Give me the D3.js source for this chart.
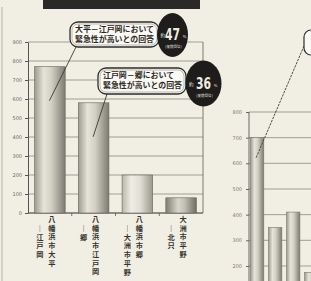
<!DOCTYPE html>
<html>
<head>
<meta charset="utf-8">
<script src="https://cdn.jsdelivr.net/npm/d3@7"></script>
<style>
  html, body { margin: 0; padding: 0; background: #f1efe4; }
  svg { display: block; }
</style>
</head>
<body>
<svg id="chart"></svg>
<script>
// data
const categories = ['八幡浜市大平－江戸岡', '八幡浜市江戸岡－郷', '八幡浜市郷－大洲市平野', '大洲市平野－北只']
const counts = [770, 580, 200, 80]
const yTicks = [0, 100, 200, 300, 400, 500, 600, 700, 800, 900]

const calloutLines = [
  ['大平－江戸岡において', '緊急性が高いとの回答'],
  ['江戸岡－郷において', '緊急性が高いとの回答']
]
const calloutPct = ['47', '36']

// second chart, only partly visible on the right edge
const rightKeys = ['r1', 'r2', 'r3', 'r4']
const rightCounts = [700, 350, 410, 175]
const rightTicks = [200, 300, 400, 500, 600, 700, 800]

const W = 311, H = 281
const jp = '"Noto Sans CJK JP", "Noto Sans", sans-serif'

const svg = d3.select('#chart').attr('width', W).attr('height', H)

svg.append('rect').attr('width', W).attr('height', H).attr('fill', '#f1efe4')

// GRADIENTS FOR THE CYLINDER BARS
const defs = svg.append('defs')
function grad(id, stops) {
  const g = defs.append('linearGradient').attr('id', id)
    .attr('x1', 0).attr('x2', 1).attr('y1', 0).attr('y2', 0)
  stops.forEach(s => g.append('stop').attr('offset', s[0]).attr('stop-color', s[1]))
}
grad('barGrad', [[0, '#9d9a8e'], [0.3, '#e6e4d9'], [0.55, '#d2cfc3'], [1, '#7d7a70']])
grad('barLight', [[0, '#b9b6aa'], [0.3, '#efede4'], [0.6, '#e0ded3'], [1, '#9a978c']])
grad('barDark', [[0, '#7f7c72'], [0.4, '#d8d6cb'], [0.6, '#c4c1b5'], [1, '#6f6c63']])

// page edge + title banner
svg.append('line').attr('x1', 2).attr('x2', 2).attr('y1', 7).attr('y2', H)
  .attr('stroke', '#b5b3a8').attr('stroke-width', 1)
svg.append('rect').attr('x', 43).attr('y', -2).attr('width', 157).attr('height', 11)
  .attr('fill', '#2b2927')

// LEFT CHART
const margin = { left: 28, top: 42, right: 108, bottom: 68 }
const x = d3.scaleBand().domain(categories).range([margin.left, W - margin.right])
  .paddingInner(0.3).paddingOuter(0.15)
const y = d3.scaleLinear().domain([0, 900]).range([H - margin.bottom, margin.top])

const plot = svg.append('g')

// grid
plot.append('g').selectAll('line').data(yTicks).enter().append('line')
  .attr('x1', margin.left).attr('x2', W - margin.right)
  .attr('y1', d => y(d)).attr('y2', d => y(d))
  .attr('stroke', '#8c8a80').attr('stroke-width', 0.8)
plot.append('line')
  .attr('x1', W - margin.right).attr('x2', W - margin.right)
  .attr('y1', y(900)).attr('y2', y(0))
  .attr('stroke', '#6f6d65').attr('stroke-width', 0.9)

const yAxis = d3.axisLeft(y).tickValues(yTicks).tickSize(3).tickPadding(3).tickSizeOuter(0)
const yg = plot.append('g').attr('transform', `translate(${margin.left},0)`).call(yAxis)
yg.select('.domain').attr('stroke', '#555')
yg.selectAll('.tick line').attr('stroke', '#555')
yg.selectAll('text').attr('font-size', 5).attr('fill', '#6a6860')
  .attr('font-family', 'DejaVu Sans, sans-serif')

// baseline and separators between bars
plot.append('line').attr('x1', margin.left).attr('x2', W - margin.right)
  .attr('y1', y(0)).attr('y2', y(0)).attr('stroke', '#555').attr('stroke-width', 1)
plot.append('g').selectAll('line').data(categories.slice(1)).enter().append('line')
  .attr('x1', d => x(d) - x.step() * x.paddingInner() / 2)
  .attr('x2', d => x(d) - x.step() * x.paddingInner() / 2)
  .attr('y1', y(0)).attr('y2', y(0) + 3)
  .attr('stroke', '#555').attr('stroke-width', 0.8)

const barFill = ['url(#barGrad)', 'url(#barGrad)', 'url(#barLight)', 'url(#barDark)']
plot.append('g').selectAll('rect').data(categories).enter().append('rect')
  .attr('x', d => x(d))
  .attr('y', (d, i) => y(counts[i]))
  .attr('width', x.bandwidth())
  .attr('height', (d, i) => y(0) - y(counts[i]))
  .attr('fill', (d, i) => barFill[i])
  .attr('stroke', '#66645c').attr('stroke-width', 0.6)

// vertical category labels: right column first, then the left one
const pitch = 8.7
categories.forEach(c => {
  const [first, second] = c.split('－')
  const cx = x(c) + x.bandwidth() / 2
  const cols = [
    { chars: first.split(''), x: cx + 2, y0: 222 },
    { chars: ['｜'].concat(second.split('')), x: cx - 10, y0: 231 }
  ]
  cols.forEach(col => {
    plot.append('g').selectAll('text').data(col.chars).enter().append('text')
      .attr('x', col.x)
      .attr('y', (d, i) => col.y0 + i * pitch)
      .attr('text-anchor', 'middle')
      .attr('font-family', jp).attr('font-weight', 700)
      .attr('font-size', 7.2).attr('fill', '#35332f')
      .text(d => d)
  })
})

// CALLOUTS
const boxes = [
  { x: 70, y: 22, w: 89, h: 25, cx: 172.5, cy: 35, rx: 15.5, ry: 22, lx: 76, ly: 47 },
  { x: 98, y: 68, w: 88, h: 26, cx: 203.5, cy: 83.5, rx: 18, ry: 23, lx: 107, ly: 94 }
]
boxes.forEach((b, i) => {
  const g = svg.append('g')
  const bx = x(categories[i]) + x.bandwidth() / 2 - 0.5
  g.append('line').attr('x1', b.lx).attr('y1', b.ly)
    .attr('x2', bx).attr('y2', y(counts[i]) + 34)
    .attr('stroke', '#3a3834').attr('stroke-width', 0.9)
  g.append('rect').attr('x', b.x).attr('y', b.y).attr('width', b.w).attr('height', b.h)
    .attr('rx', 8).attr('fill', '#faf9f3').attr('stroke', '#2f2d2a').attr('stroke-width', 1.3)
  g.append('rect').attr('x', b.x + 2).attr('y', b.y + 2).attr('width', b.w - 4).attr('height', b.h - 4)
    .attr('rx', 6).attr('fill', 'none').attr('stroke', '#77756d').attr('stroke-width', 0.5)
  g.selectAll('text.l').data(calloutLines[i]).enter().append('text')
    .attr('x', b.x + 5).attr('y', (d, j) => b.y + 10 + j * 10)
    .attr('font-family', jp).attr('font-weight', 700).attr('font-size', 7.6)
    .attr('fill', '#2a2825').attr('textLength', d => d.length * 7.9)
    .attr('lengthAdjust', 'spacingAndGlyphs')
    .text(d => d)

  g.append('ellipse').attr('cx', b.cx).attr('cy', b.cy).attr('rx', b.rx).attr('ry', b.ry)
    .attr('fill', '#1e1d1b')
  g.append('text').attr('x', b.cx - b.rx + 3.5).attr('y', b.cy + 2)
    .attr('font-family', jp).attr('font-size', 4.5).attr('fill', '#e6e4da').text('約')
  g.append('text').attr('x', b.cx).attr('y', b.cy + 5)
    .attr('text-anchor', 'middle')
    .attr('font-family', 'DejaVu Sans Condensed, DejaVu Sans, sans-serif')
    .attr('font-weight', 700).attr('font-size', 15).attr('fill', '#eeece2')
    .attr('textLength', 15).attr('lengthAdjust', 'spacingAndGlyphs')
    .text(calloutPct[i])
  g.append('text').attr('x', b.cx + 10.3).attr('y', b.cy + 3)
    .attr('font-family', 'DejaVu Sans, sans-serif').attr('font-size', 4)
    .attr('fill', '#e6e4da').text('%')
  g.append('text').attr('x', b.cx + 1).attr('y', b.cy + 13)
    .attr('text-anchor', 'middle')
    .attr('font-family', jp).attr('font-size', 3.6).attr('fill', '#d8d6cc')
    .text('(複数回答)')
})

// RIGHT CHART (cut off by the frame)
const x2 = d3.scaleBand().domain(rightKeys).range([249, 249 + 17.6 * 4])
  .paddingInner(0.26).paddingOuter(0.08)
const y2 = d3.scaleLinear().domain([0, 800]).range([317.3, 112])
const right = svg.append('g')

right.append('g').selectAll('line').data(rightTicks).enter().append('line')
  .attr('x1', 249).attr('x2', W)
  .attr('y1', d => y2(d)).attr('y2', d => y2(d))
  .attr('stroke', '#8c8a80').attr('stroke-width', 0.8)

const y2Axis = d3.axisLeft(y2).tickValues(rightTicks).tickSize(3).tickPadding(4).tickSizeOuter(0)
const y2g = right.append('g').attr('transform', 'translate(249,0)').call(y2Axis)
y2g.select('.domain').attr('stroke', '#666').attr('d', `M0,${y2(800)}V${H}`)
y2g.selectAll('.tick line').attr('stroke', '#666')
y2g.selectAll('text').attr('font-size', 5).attr('fill', '#7a786f')
  .attr('font-family', 'DejaVu Sans, sans-serif')

right.append('g').selectAll('rect').data(rightKeys).enter().append('rect')
  .attr('x', d => x2(d))
  .attr('y', (d, i) => y2(rightCounts[i]))
  .attr('width', x2.bandwidth())
  .attr('height', (d, i) => y2(0) - y2(rightCounts[i]))
  .attr('fill', 'url(#barGrad)')
  .attr('stroke', '#77756d').attr('stroke-width', 0.6)

right.append('line')
  .attr('x1', x2('r1') + x2.bandwidth() / 2 - 1).attr('y1', y2(rightCounts[0]) + 20)
  .attr('x2', 304).attr('y2', 46)
  .attr('stroke', '#3f3d39').attr('stroke-width', 0.9).attr('stroke-dasharray', '2.5,1')
right.append('rect').attr('x', 304).attr('y', 30).attr('width', 30).attr('height', 25)
  .attr('rx', 7).attr('fill', '#faf9f3').attr('stroke', '#2f2d2a').attr('stroke-width', 1.2)
</script>
</body>
</html>
